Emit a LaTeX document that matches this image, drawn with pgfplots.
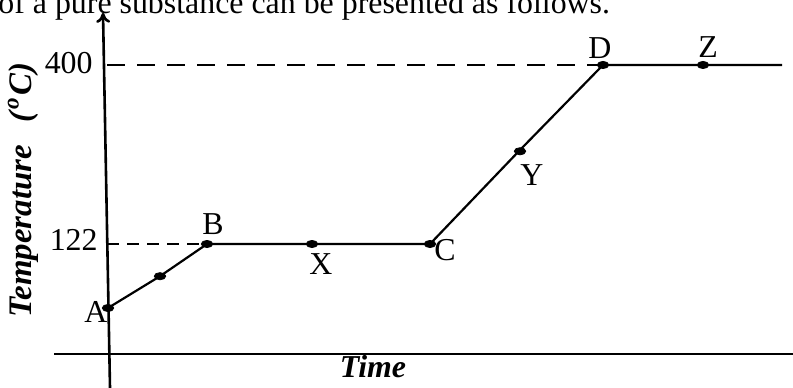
\documentclass[border=0pt]{standalone}
\usepackage{fontspec}
\setmainfont{Liberation Serif}
\usepackage{pgfplots}
\pgfplotsset{compat=1.18}
\usetikzlibrary{arrows.meta}
\begin{document}
\begin{tikzpicture}[font=\fontsize{16}{19}\selectfont]
\begin{axis}[
  scale only axis, width=396.5bp, height=194bp,
  xmin=-107, xmax=686, ymin=-101.6, ymax=500.9,
  axis lines=none, clip=false,
]
% axes
\addplot[black, line width=1.3bp, -{To[length=5bp,width=7bp]}] coordinates {(3,-101.6) (-4,481)};
\addplot[black, line width=1.3bp] coordinates {(-53,-48.8) (686,-48.8)};
% dashed guide lines
\addplot[black, line width=0.8bp, dash pattern=on 9bp off 6bp] coordinates {(0,400) (496,400)};
\addplot[black, line width=0.8bp, dash pattern=on 6bp off 4bp] coordinates {(0,122) (100,122)};
% heating curve
\addplot[black, line width=1.1bp] coordinates {
  (1,22.6) (53,72) (100,122) (205,122) (323,122) (413,268) (496,400) (596,400) (675,400)};
\addplot[black, only marks, mark=*, mark size=1.8pt, mark options={xscale=1.6}] coordinates {
  (1,22.6) (53,72) (100,122) (205,122) (323,122) (413,266) (496,400) (596,400)};
% point labels
\node at (axis cs:-11,16.4) {A};
\node at (axis cs:106,153) {B};
\node at (axis cs:214,91) {X};
\node at (axis cs:338,112.7) {C};
\node at (axis cs:425,229) {Y};
\node at (axis cs:493,426) {D};
\node at (axis cs:601,428) {Z};
% tick labels
\node[anchor=east, inner sep=0pt] at (axis cs:-14,403) {400};
\node[anchor=east, inner sep=0pt] at (axis cs:-9,128) {122};
% axis titles
\node[rotate=90, font=\fontsize{16.5}{19}\selectfont\bfseries\itshape] at (axis cs:-84,206) {Temperature\hspace{0.7em}(\kern0.05em\textsuperscript{o}\kern0.05em C)};
\node[font=\fontsize{16}{19}\selectfont\bfseries\itshape] at (axis cs:266,-69) {Time};
% cut-off line of text above
\node[anchor=base west, inner sep=0pt] at (axis cs:-109,480.7) {of a pure substance can be presented as follows.};
\end{axis}
\pgfresetboundingbox
\path[use as bounding box] (current axis.south west) rectangle (current axis.north east);
\end{tikzpicture}
\end{document}
